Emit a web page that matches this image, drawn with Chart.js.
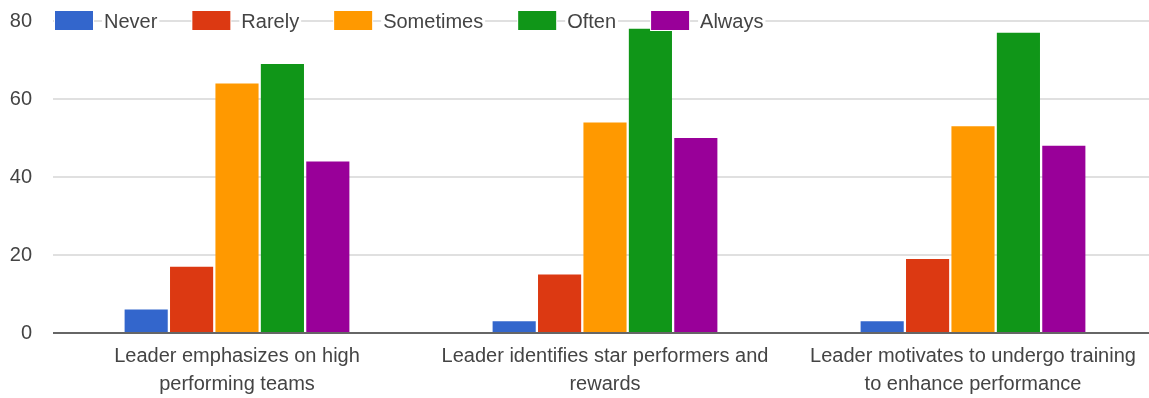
<!DOCTYPE html>
<html>
<head>
<meta charset="utf-8">
<script src="https://cdn.jsdelivr.net/npm/chart.js@4/dist/chart.umd.min.js"></script>
<style>
html, body { margin: 0; padding: 0; overflow: hidden; background: #fff; }
#wrap { width: 1160px; height: 398px; position: relative; }
</style>
</head>
<body>
<div id="wrap"><canvas id="chart"></canvas></div>
<script>
// data
const categories = [
    ["Leader emphasizes on high", "performing teams"],
    ["Leader identifies star performers and", "rewards"],
    ["Leader motivates to undergo training", "to enhance performance"]
];
const seriesNames = ["Never", "Rarely", "Sometimes", "Often", "Always"];
const seriesColours = ["#3366cc", "#dc3912", "#ff9900", "#109618", "#990099"];
const never = [6, 3, 3];
const rarely = [17, 15, 19];
const sometimes = [64, 54, 53];
const often = [69, 78, 77];
const always = [44, 50, 48];
const yTicks = [0, 20, 40, 60, 80];

const seriesValues = [never, rarely, sometimes, often, always];
const FONT = '"Liberation Sans", Arial, sans-serif';

// legend sits on top of the 80 gridline, like the google chart
const topLegend = {
    id: "topLegend",
    afterDraw(chart) {
        const ctx = chart.ctx;
        const y = chart.scales.y.getPixelForValue(yTicks[yTicks.length - 1]);
        let x = chart.chartArea.left + 2;
        ctx.save();
        ctx.font = "20px " + FONT;
        ctx.textBaseline = "middle";
        chart.data.datasets.forEach(ds => {
            const w = ctx.measureText(ds.label).width;
            ctx.fillStyle = "#fff";
            ctx.fillRect(x - 1, y - 11, 40, 21);
            ctx.fillStyle = ds.backgroundColor;
            ctx.fillRect(x, y - 10, 38, 19);
            const tx = x + 49;
            ctx.fillStyle = "#fff";
            ctx.fillRect(tx - 2, y - 12, w + 4, 24);
            ctx.fillStyle = "#444";
            ctx.fillText(ds.label, tx, y + 1);
            x = tx + w + 35;
        });
        ctx.restore();
    }
};

const ctx = document.getElementById("chart").getContext("2d");
new Chart(ctx, {
    type: "bar",
    data: {
        labels: categories,
        datasets: seriesNames.map((name, i) => ({
            label: name,
            data: seriesValues[i],
            backgroundColor: seriesColours[i],
            borderWidth: 0,
            categoryPercentage: 0.617,
            barPercentage: 0.95
        }))
    },
    options: {
        responsive: true,
        maintainAspectRatio: false,
        animation: false,
        layout: { autoPadding: false, padding: { top: 21, right: 3, left: 0, bottom: 0 } },
        scales: {
            x: {
                grid: { display: false },
                border: { display: false },
                ticks: {
                    color: "#444",
                    padding: 1,
                    maxRotation: 0,
                    autoSkip: false,
                    font: { family: FONT, size: 20, lineHeight: 1.4 }
                },
                afterFit: s => { s.height = 65; }
            },
            y: {
                min: 0,
                max: 80,
                afterBuildTicks: s => { s.ticks = yTicks.map(v => ({ value: v })); },
                grid: {
                    drawTicks: false,
                    lineWidth: 2,
                    color: c => c.tick && c.tick.value === 0 ? "#666" : "#e0e0e0"
                },
                border: { display: false },
                ticks: {
                    color: "#444",
                    padding: 21,
                    font: { family: FONT, size: 20 }
                },
                afterFit: s => {
                    s.width = 53;
                    s.paddingTop = 0;
                    s.paddingBottom = 0;
                }
            }
        },
        plugins: {
            legend: { display: false },
            tooltip: { enabled: false }
        }
    },
    plugins: [topLegend]
});
</script>
</body>
</html>
